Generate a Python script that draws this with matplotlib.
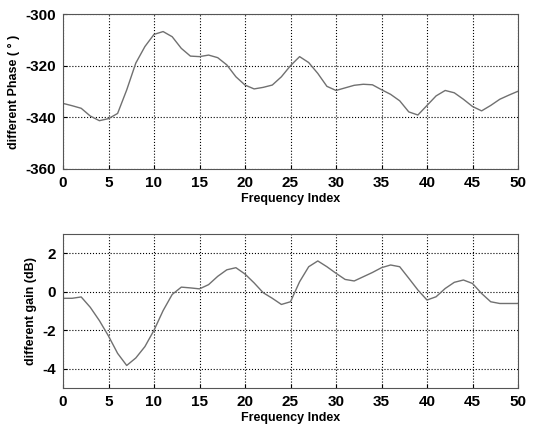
import matplotlib
matplotlib.use("Agg")
import matplotlib.pyplot as plt
import numpy as np

# frequency index 0..50
freq_index = list(range(51))

phase = [-334.6, -335.5, -336.5, -339.5, -341.3, -340.5, -338.5, -329.4, -319.0, -312.6,
         -307.9, -306.8, -308.8, -313.3, -316.3, -316.5, -315.9, -316.9, -319.7, -324.3,
         -327.5, -329.0, -328.4, -327.5, -324.3, -320.0, -316.5, -318.8, -323.0, -328.0,
         -329.6, -328.6, -327.6, -327.2, -327.4, -329.3, -331.1, -333.6, -337.9, -339.1,
         -335.4, -331.7, -329.6, -330.5, -333.0, -335.8, -337.5, -335.4, -333.0, -331.4,
         -329.9]

gain = [-0.34, -0.34, -0.27, -0.81, -1.5, -2.3, -3.2, -3.83, -3.44, -2.85,
        -2.0, -0.98, -0.14, 0.24, 0.2, 0.15, 0.37, 0.8, 1.14, 1.25,
        0.92, 0.46, -0.05, -0.34, -0.66, -0.52, 0.52, 1.3, 1.6, 1.3,
        0.96, 0.64, 0.56, 0.78, 1.0, 1.25, 1.39, 1.3, 0.7, 0.09,
        -0.43, -0.26, 0.17, 0.49, 0.61, 0.43, -0.09, -0.52, -0.61, -0.61,
        -0.61]

plt.rcParams['font.family'] = ['Liberation Sans', 'DejaVu Sans']
plt.rcParams['font.weight'] = 'bold'
plt.rcParams['axes.unicode_minus'] = False

fig = plt.figure(figsize=(5.37, 4.28), dpi=100)
W, H = 537.0, 428.0
ax1 = fig.add_axes([63 / W, 1 - 169 / H, (518 - 63) / W, (169 - 14) / H])
ax2 = fig.add_axes([63 / W, 1 - 388 / H, (518 - 63) / W, (388 - 234) / H])

ax1.plot(freq_index, phase, color='#707070', lw=1.0)
ax1.set_xlim(0, 50)
ax1.set_ylim(-360, -300)
ax1.set_yticks([-360, -340, -320, -300])
ax1.set_xticks(range(0, 51, 5))
ax1.set_ylabel("different Phase ( ° )", fontsize=9, fontweight='bold')
ax1.set_xlabel("Frequency Index", fontsize=9, fontweight='bold', labelpad=2)

ax2.plot(freq_index, gain, color='#707070', lw=1.0)
ax2.set_xlim(0, 50)
ax2.set_ylim(-5, 3)
ax2.set_yticks([-4, -2, 0, 2])
ax2.set_xticks(range(0, 51, 5))
ax2.set_ylabel("different gain (dB)", fontsize=9, fontweight='bold')
ax2.set_xlabel("Frequency Index", fontsize=9, fontweight='bold', labelpad=2)

for ax in (ax1, ax2):
    ax.grid(True, color='black', linestyle=':', linewidth=0.8)
    ax.tick_params(labelsize=11, length=3, direction='in', pad=5)
    for s in ax.spines.values():
        s.set_color('#555555')

fig.savefig("out.png", dpi=100)
